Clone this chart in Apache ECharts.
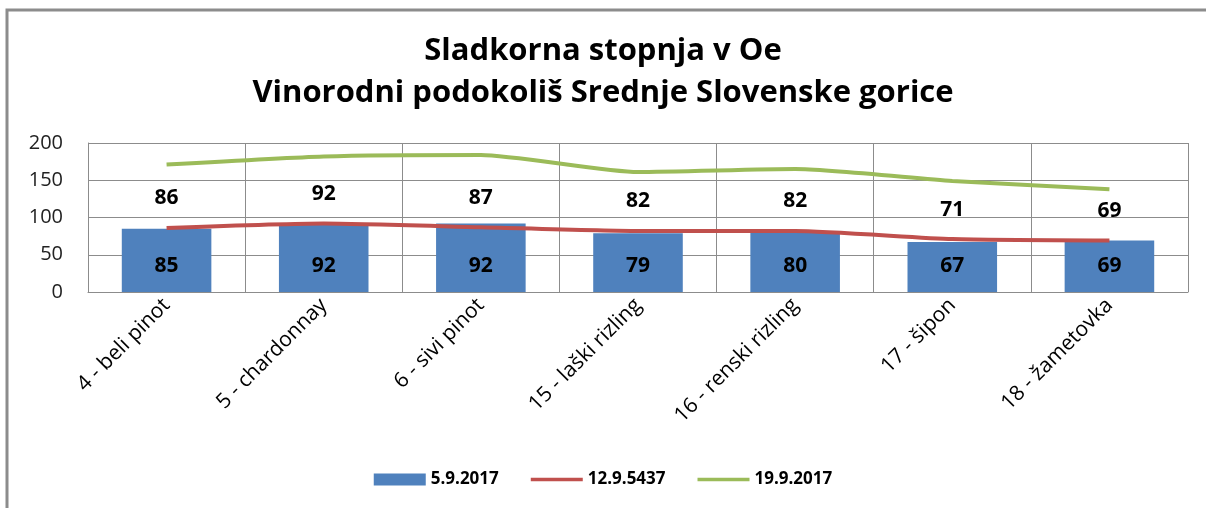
<!DOCTYPE html>
<html>
<head>
<meta charset="utf-8">
<script src="https://cdn.jsdelivr.net/npm/echarts@6/dist/echarts.min.js"></script>
<style>
  html, body { margin: 0; padding: 0; background: #fff; }
  #chart { width: 1206px; height: 508px; }
</style>
</head>
<body>
<div id="chart"></div>
<script>
// kategorije (sorte)
const categories = ["4 - beli pinot", "5 - chardonnay", "6 - sivi pinot", "15 - laški rizling", "16 - renski rizling", "17 - šipon", "18 - žametovka"];
// meritve
const seriesNames = ["5.9.2017", "12.9.5437", "19.9.2017"];
const values5 = [85, 92, 92, 79, 80, 67, 69];
const values12 = [86, 92, 87, 82, 82, 71, 69];
const values19 = [171, 182, 184, 161, 165, 149, 138];
const yTicks = { min: 0, max: 200, interval: 50 };

const chart = echarts.init(document.getElementById("chart"));
const font = "'Open Sans', 'Noto Sans', sans-serif";

const option = {
  animation: false,
  backgroundColor: "#fff",
  textStyle: { fontFamily: font },
  // okvir grafa
  graphic: [{
    type: "rect",
    shape: { x: 7, y: 10, width: 1400, height: 700 },
    style: { fill: "none", stroke: "#8c8c8c", lineWidth: 3 },
    silent: true
  }],
  title: {
    text: "Sladkorna stopnja v Oe\nVinorodni podokoliš Srednje Slovenske gorice",
    left: "center",
    top: 25,
    textStyle: { fontFamily: font, fontSize: 31, fontWeight: "bold", color: "#000", lineHeight: 42 }
  },
  legend: {
    bottom: 15,
    left: "center",
    itemGap: 32,
    itemWidth: 52,
    itemHeight: 12,
    textStyle: { fontFamily: font, fontSize: 17, fontWeight: "bold", color: "#000" },
    data: [
      { name: seriesNames[0], icon: "rect" },
      { name: seriesNames[1], icon: "path://M0,5 L60,5 L60,9 L0,9 Z" },
      { name: seriesNames[2], icon: "path://M0,5 L60,5 L60,9 L0,9 Z" }
    ]
  },
  grid: { left: 88, right: 18, top: 143, bottom: 216 },
  xAxis: {
    type: "category",
    data: categories,
    axisTick: { show: false },
    axisLine: { lineStyle: { color: "#8c8c8c" } },
    splitLine: { show: true, lineStyle: { color: "#8c8c8c" } },
    axisLabel: { rotate: 45, fontSize: 21, color: "#000", fontFamily: font, margin: 10, interval: 0 }
  },
  yAxis: {
    type: "value",
    min: yTicks.min,
    max: yTicks.max,
    interval: yTicks.interval,
    axisLine: { show: true, lineStyle: { color: "#8c8c8c" } },
    axisTick: { show: false },
    splitLine: { lineStyle: { color: "#8c8c8c" } },
    axisLabel: { fontSize: 20, color: "#222", fontFamily: font, margin: 25 }
  },
  series: [
    {
      name: seriesNames[0],
      type: "bar",
      data: values5,
      barWidth: "57%",
      itemStyle: { color: "#4f81bd" },
      label: { show: true, position: "insideBottom", distance: 15, fontSize: 21, fontWeight: "bold", color: "#000", fontFamily: font }
    },
    {
      name: seriesNames[1],
      type: "line",
      data: values12,
      smooth: 0.2,
      symbol: "circle",
      symbolSize: 0,
      lineStyle: { color: "#c0504d", width: 4 },
      itemStyle: { color: "#c0504d" },
      label: { show: true, position: "top", distance: 19, fontSize: 21, fontWeight: "bold", color: "#000", fontFamily: font },
      z: 3
    },
    {
      name: seriesNames[2],
      type: "line",
      data: values19,
      smooth: 0.2,
      showSymbol: false,
      lineStyle: { color: "#9bbb59", width: 4 },
      itemStyle: { color: "#9bbb59" },
      z: 3
    }
  ]
};

chart.setOption(option);
</script>
</body>
</html>
